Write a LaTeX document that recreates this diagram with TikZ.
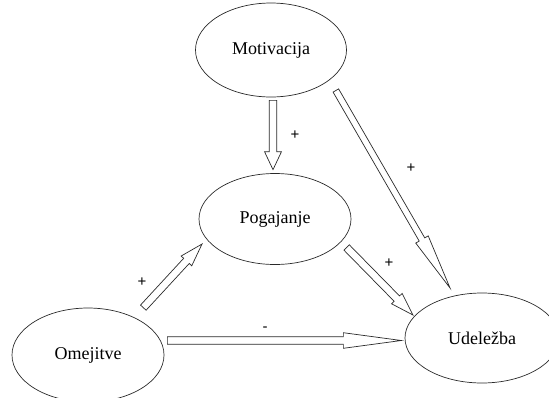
\documentclass[tikz,border=0pt]{standalone}
\usepackage{fontspec}
\setmainfont{Liberation Serif}
\newfontfamily\signfont{Liberation Sans}
\usepackage{tikz}
\usetikzlibrary{calc,shapes.geometric}
\definecolor{ink}{HTML}{2A2A2A}

% hollow block arrow: tail, tip, shaft half width, head half width, head length
\newcommand{\blockarrow}[5]{%
  \coordinate (ba-t) at (#1);
  \coordinate (ba-p) at (#2);
  \coordinate (ba-h) at ($(ba-p)!#5!(ba-t)$);
  \draw[blockarr] ($(ba-t)!#3!90:(ba-p)$) -- ($(ba-h)!#3!90:(ba-p)$)
    -- ($(ba-h)!#4!90:(ba-p)$) -- (ba-p) -- ($(ba-h)!#4!-90:(ba-p)$)
    -- ($(ba-h)!#3!-90:(ba-p)$) -- ($(ba-t)!#3!-90:(ba-p)$) -- cycle;
}

\begin{document}
\begin{tikzpicture}[
  x=1pt, y=-1pt,
  concept/.style={draw=ink, line width=0.7pt, ellipse, inner sep=0pt, font=\fontsize{18}{20}\selectfont},
  sign/.style={font=\signfont\fontsize{15}{16}\selectfont, inner sep=0pt},
  blockarr/.style={draw=ink, line width=0.7pt, fill=white, line join=miter}
]
\useasboundingbox (0,0) rectangle (549,397);

\node[concept, minimum width=151pt, minimum height=94pt] (mot) at (271,50) {Motivacija};
\node[concept, minimum width=152pt, minimum height=91pt] (pog) at (275,219) {Pogajanje};
\node[concept, minimum width=152pt, minimum height=94pt] (om) at (88,355) {Omejitve};
\node[concept, minimum width=154pt, minimum height=90pt] (ude) at (482,338) {Udeležba};

% arrows
\blockarrow{$(mot.south)+(2,3)$}{$(pog.north)+(-2,-3.5)$}{3.7pt}{8.5pt}{18pt}
\blockarrow{$(mot.east)+(-11,40.5)$}{$(ude.north)+(-32,-4.7)$}{3.2pt}{7.2pt}{56pt}
\blockarrow{$(pog.east)+(-4.7,28.5)$}{$(ude.west)+(8.3,-23)$}{3.8pt}{7.4pt}{23pt}
\blockarrow{$(om.north)+(55.3,0)$}{$(pog.west)+(3.4,25)$}{3.8pt}{7.2pt}{23pt}
\blockarrow{$(om.east)+(3,-14.5)$}{$(ude.west)+(-3.3,2.5)$}{3.8pt}{7.8pt}{58pt}

% signs
\node[sign] (s1) at (295,135) {+};
\node[sign] (s2) at (411,168) {+};
\node[sign] (s3) at (389,263) {+};
\node[sign] (s4) at (142,282) {+};
\node[sign] (s5) at (265,329) {-};
\end{tikzpicture}
\end{document}
